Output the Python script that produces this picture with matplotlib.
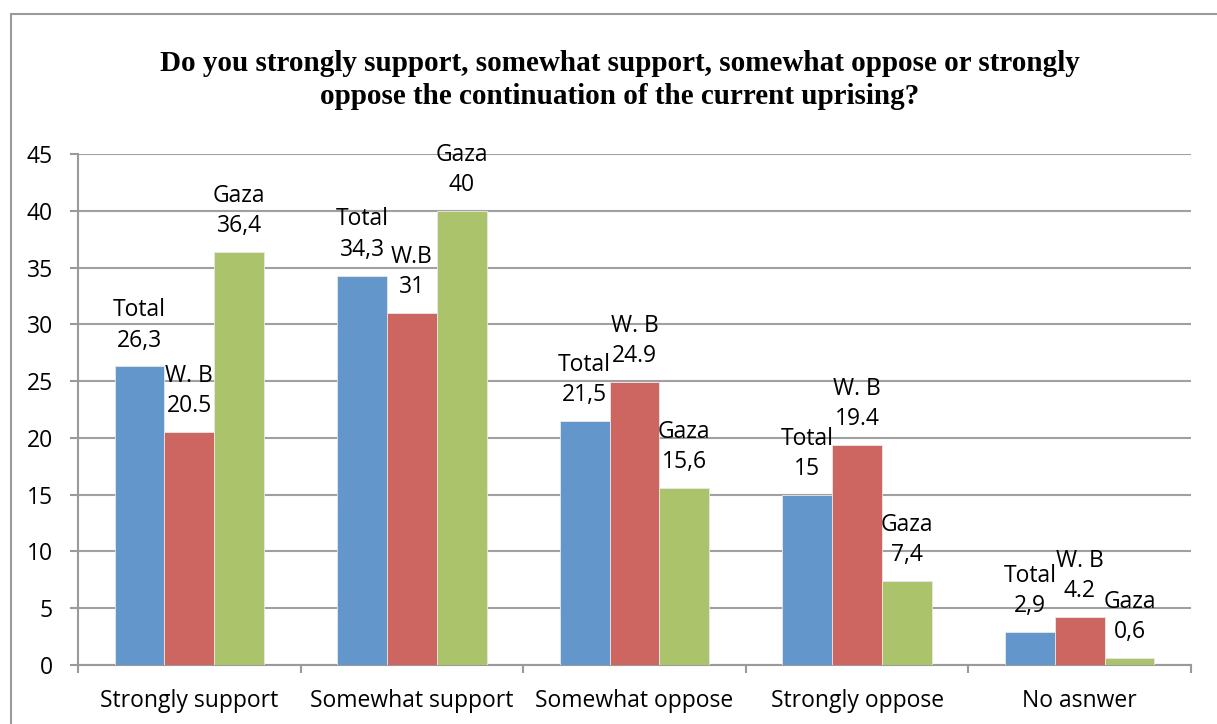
import matplotlib.pyplot as plt
import numpy as np
from matplotlib.patches import Rectangle

categories = ["Strongly support", "Somewhat support", "Somewhat oppose",
              "Strongly oppose", "No asnwer"]
total = [26.3, 34.3, 21.5, 15, 2.9]
wb = [20.5, 31, 24.9, 19.4, 4.2]
gaza = [36.4, 40, 15.6, 7.4, 0.6]

# label texts as they appear in the source (mixed decimal marks)
total_labels = ["Total\n26,3", "Total\n34,3", "Total\n21,5", "Total\n15", "Total\n2,9"]
wb_labels = ["W. B\n20.5", "W.B\n31", "W. B\n24.9", "W. B\n19.4", "W. B\n4.2"]
gaza_labels = ["Gaza\n36,4", "Gaza\n40", "Gaza\n15,6", "Gaza\n7,4", "Gaza\n0,6"]

title = ("Do you strongly support, somewhat support, somewhat oppose or strongly\n"
         "oppose the continuation of the current uprising?")

W, H = 1217, 724
fig = plt.figure(figsize=(W / 100, H / 100), dpi=100)
ax = fig.add_axes([78 / W, 1 - 665 / H, (1191 - 78) / W, (665 - 154) / H])

# outer chart frame (runs off the right/bottom edge)
fig.patches.append(Rectangle((11 / W, -0.1), 1.2, 1 - 14 / H + 0.1,
                             transform=fig.transFigure, fill=False,
                             edgecolor="#9a9a9a", linewidth=1.5))

font = "Open Sans"
fs = 16.5

x = np.arange(len(categories))
bw = 0.224
series = [
    (total, total_labels, "#6396cb", -bw),
    (wb, wb_labels, "#cd6560", 0),
    (gaza, gaza_labels, "#abc46c", bw),
]
for vals, labs, col, off in series:
    bars = ax.bar(x + off, vals, width=bw, color=col, edgecolor="#e8e8e8",
                  linewidth=0.6, zorder=3)
    for b, lab in zip(bars, labs):
        ax.annotate(lab, (b.get_x() + b.get_width() / 2, b.get_height()),
                    xytext=(0, 29.5), textcoords="offset points",
                    ha="center", va="center", fontsize=fs, family=font,
                    linespacing=1.35, zorder=4)

ax.set_xlim(-0.5, len(categories) - 0.5)
ax.set_ylim(0, 45)
ax.set_yticks(range(0, 46, 5))
ax.set_xticks(x)
ax.set_xticklabels(categories, fontsize=fs, family=font)
ax.set_xticks(np.arange(-0.5, len(categories), 1), minor=True)
ax.tick_params(axis="x", which="major", length=0, pad=17)
ax.tick_params(axis="x", which="minor", length=6, width=1.5, color="#9a9a9a",
               direction="out")
ax.tick_params(axis="y", length=6, width=1.5, color="#9a9a9a", pad=12,
               labelsize=fs)
for t in ax.get_yticklabels():
    t.set_family(font)

ax.grid(axis="y", color="#a0a0a0", linewidth=1.5, zorder=0)
ax.set_axisbelow(True)
for s in ["top", "right"]:
    ax.spines[s].set_visible(False)
for s in ["left", "bottom"]:
    ax.spines[s].set_color("#9a9a9a")
    ax.spines[s].set_linewidth(1.5)

fig.text(620 / W, 1 - 80 / H, title, ha="center", va="center",
         family="Liberation Serif", fontweight="bold", fontsize=21,
         linespacing=1.32)

fig.savefig("out.png", dpi=100)
